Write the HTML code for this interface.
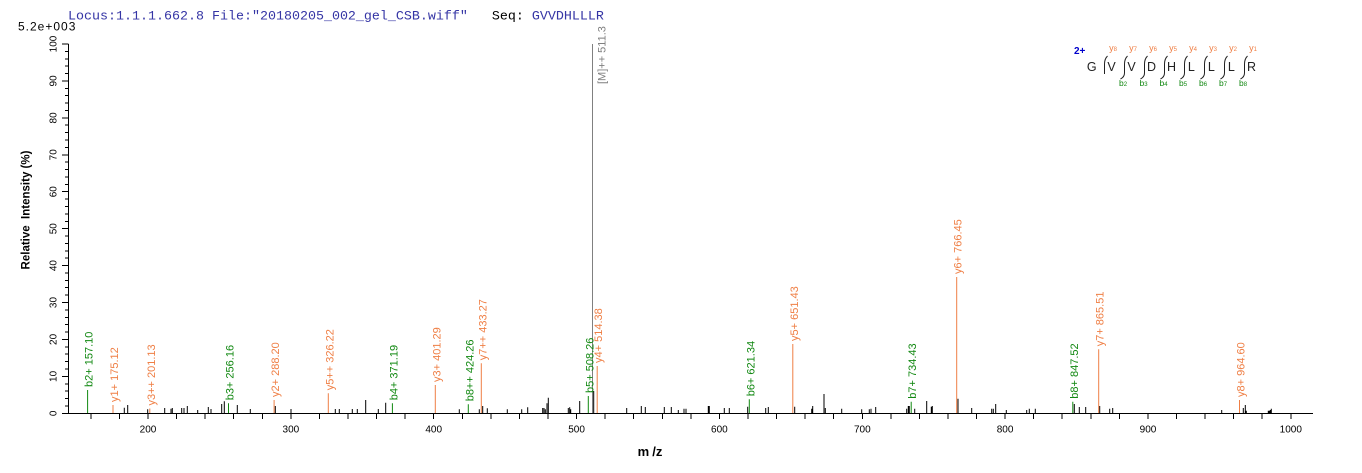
<!DOCTYPE html>
<html>
<head>
<meta charset="utf-8">
<style>
html,body{margin:0;padding:0;background:#fff;}
svg{display:block;}
text{font-family:"Liberation Sans",Arial,sans-serif;}
.mono{font-family:"Liberation Mono","Courier New",monospace;}
.pl{font-size:11px;}
.o{fill:#ef7f45;}
.g{fill:#118811;}
</style>
</head>
<body>
<svg width="1362" height="473" viewBox="0 0 1362 473" xmlns="http://www.w3.org/2000/svg">
<rect width="1362" height="473" fill="#fff"/>

<!-- header -->
<text class="mono" x="68" y="19.5" font-size="13.33" fill="#3535a5" style="white-space:pre">Locus:1.1.1.662.8 File:"20180205_002_gel_CSB.wiff"   <tspan fill="#000">Seq:</tspan> GVVDHLLLR</text>
<text x="18" y="30.5" font-size="12" letter-spacing="1" fill="#000">5.2e+003</text>

<!-- axes -->
<g stroke="#000" stroke-width="1" fill="none" shape-rendering="crispEdges">
<path d="M68.5 44 V413.5 H1313"/>
<!-- x ticks -->
<path d="M90.9 413 v6 M119.4 413 v6 M148 413 v6 M176.6 413 v6 M205.1 413 v6 M233.7 413 v6 M262.3 413 v6 M290.9 413 v6 M319.4 413 v6 M348 413 v6 M376.6 413 v6 M405.1 413 v6 M433.7 413 v6 M462.3 413 v6 M490.8 413 v6 M519.4 413 v6 M548 413 v6 M576.6 413 v6 M605.1 413 v6 M633.7 413 v6 M662.3 413 v6 M690.8 413 v6 M719.4 413 v6 M748 413 v6 M776.5 413 v6 M805.1 413 v6 M833.7 413 v6 M862.3 413 v6 M890.8 413 v6 M919.4 413 v6 M948 413 v6 M976.5 413 v6 M1005.1 413 v6 M1033.7 413 v6 M1062.2 413 v6 M1090.8 413 v6 M1119.4 413 v6 M1148 413 v6 M1176.5 413 v6 M1205.1 413 v6 M1233.7 413 v6 M1262.2 413 v6 M1290.8 413 v6"/>
<!-- y major ticks -->
<path d="M62 413.3 h6.5 M62 376.4 h6.5 M62 339.4 h6.5 M62 302.5 h6.5 M62 265.6 h6.5 M62 228.7 h6.5 M62 191.7 h6.5 M62 154.8 h6.5 M62 117.9 h6.5 M62 80.9 h6.5 M62 44 h6.5"/>
<!-- y minor ticks -->
<path d="M65 405.9 h3.5 M65 398.5 h3.5 M65 391.1 h3.5 M65 383.8 h3.5 M65 369 h3.5 M65 361.6 h3.5 M65 354.2 h3.5 M65 346.8 h3.5 M65 332.1 h3.5 M65 324.7 h3.5 M65 317.3 h3.5 M65 309.9 h3.5 M65 295.1 h3.5 M65 287.7 h3.5 M65 280.4 h3.5 M65 273 h3.5 M65 258.2 h3.5 M65 250.8 h3.5 M65 243.4 h3.5 M65 236 h3.5 M65 221.3 h3.5 M65 213.9 h3.5 M65 206.5 h3.5 M65 199.1 h3.5 M65 184.3 h3.5 M65 176.9 h3.5 M65 169.6 h3.5 M65 162.2 h3.5 M65 147.4 h3.5 M65 140 h3.5 M65 132.6 h3.5 M65 125.2 h3.5 M65 110.5 h3.5 M65 103.1 h3.5 M65 95.7 h3.5 M65 88.3 h3.5 M65 73.5 h3.5 M65 66.1 h3.5 M65 58.8 h3.5 M65 51.4 h3.5"/>
</g>

<!-- x tick labels -->
<g font-size="10" text-anchor="middle" fill="#000">
<text x="148" y="432.7">200</text>
<text x="290.9" y="432.7">300</text>
<text x="433.7" y="432.7">400</text>
<text x="576.6" y="432.7">500</text>
<text x="719.4" y="432.7">600</text>
<text x="862.3" y="432.7">700</text>
<text x="1005.1" y="432.7">800</text>
<text x="1148" y="432.7">900</text>
<text x="1290.8" y="432.7">1000</text>
</g>

<!-- y tick labels -->
<g font-size="10" text-anchor="middle" fill="#000">
<text transform="translate(56.6,413.3) rotate(-90)">0</text>
<text transform="translate(56.6,376.4) rotate(-90)">10</text>
<text transform="translate(56.6,339.4) rotate(-90)">20</text>
<text transform="translate(56.6,302.5) rotate(-90)">30</text>
<text transform="translate(56.6,265.6) rotate(-90)">40</text>
<text transform="translate(56.6,228.7) rotate(-90)">50</text>
<text transform="translate(56.6,191.7) rotate(-90)">60</text>
<text transform="translate(56.6,154.8) rotate(-90)">70</text>
<text transform="translate(56.6,117.9) rotate(-90)">80</text>
<text transform="translate(56.6,80.9) rotate(-90)">90</text>
<text transform="translate(56.6,44) rotate(-90)">100</text>
</g>

<!-- axis titles -->
<text transform="translate(29.5,210) rotate(-90)" text-anchor="middle" font-size="11.5" font-weight="bold" style="white-space:pre">Relative  Intensity (%)</text>
<text x="650" y="456" text-anchor="middle" font-size="13" font-weight="bold">m<tspan dx="3">/z</tspan></text>

<!-- black peaks -->
<path stroke="#000" stroke-width="1" fill="none" d="M124.3 413 V407.7 M127.7 413 V405 M147.7 413 V409.3 M164.7 413 V408 M171 413 V408.7 M172.3 413 V408 M181.7 413 V408 M184 413 V408 M187.3 413 V406 M197.7 413 V410 M208.3 413 V407 M211 413 V409 M221.7 413 V404 M224.3 413 V401.3 M237.3 413 V405 M250.3 413 V409 M275.3 413 V406 M291 413 V409 M335.3 413 V409 M339.3 413 V409 M352.3 413 V409 M357.3 413 V409 M365.7 413 V400 M378.3 413 V409 M385.7 413 V402.7 M459.3 413 V409.3 M479.3 413 V409.3 M482.7 413 V406 M487.3 413 V408.3 M507.3 413 V409.3 M521.7 413 V409.3 M527.7 413 V407.3 M542.7 413 V408 M544 413 V408 M545.3 413 V409.3 M547 413 V403.3 M548.3 413 V397.7 M568.3 413 V408 M569.7 413 V407.3 M570.7 413 V409.3 M579.7 413 V401 M593.7 413 V391 M626.7 413 V408 M641.3 413 V406 M645.3 413 V407 M664.3 413 V407 M671.3 413 V407 M678.3 413 V410 M684 413 V408.7 M686 413 V408.7 M708.3 413 V406 M709.3 413 V406 M724.3 413 V408 M729.3 413 V408 M747.7 413 V406.7 M765.7 413 V408 M768.3 413 V407 M794.7 413 V406.7 M811.7 413 V408.7 M812.7 413 V406 M824 413 V394 M825.3 413 V408 M841.7 413 V408.7 M861.7 413 V409.3 M869.3 413 V409.3 M871 413 V408.7 M875.7 413 V407 M906.7 413 V408.7 M908.3 413 V406 M909.3 413 V406 M914.7 413 V408.7 M926.7 413 V401 M931.3 413 V406.7 M932.3 413 V406 M958 413 V398.7 M971.7 413 V408 M991.7 413 V408.7 M993.3 413 V408.7 M995.7 413 V404 M1006.3 413 V410 M1026.7 413 V410 M1029.3 413 V408.7 M1035.3 413 V408.7 M1074.3 413 V404 M1079.3 413 V407 M1085.7 413 V407 M1099.7 413 V406 M1109.7 413 V408.7 M1112.7 413 V408 M1221.7 413 V410 M1243.3 413 V408 M1245.3 413 V405 M1246.3 413 V410.7 M1268.3 413 V410.7 M1269.3 413 V410.7 M1270.3 413 V410 M1271.3 413 V408.7"/>

<!-- precursor -->
<path stroke="#808080" stroke-width="1" d="M592.5 413 V44"/>
<text class="pl" transform="translate(605.5,84) rotate(-90)" fill="#808080">[M]++ 511.3</text>

<!-- green b ions -->
<path stroke="#118811" stroke-width="1" fill="none" d="M87.6 413 V390 M228.5 413 V403.3 M392.4 413 V403.3 M468.3 413 V404.3 M588.3 413 V396 M749.3 413 V399.3 M911.2 413 V401.7 M1072.8 413 V401.7"/>
<!-- orange y ions -->
<path stroke="#ef7f45" stroke-width="1" fill="none" d="M113 413 V405 M149.8 413 V408.5 M274.1 413 V400 M328.3 413 V393.3 M435.3 413 V385 M481.3 413 V363.3 M597.2 413 V366 M792.8 413 V344 M956.7 413 V277 M1098.7 413 V349.3 M1239.5 413 V400"/>

<!-- peak labels -->
<g class="pl">
<text class="g" transform="translate(92.6,387) rotate(-90)">b2+ 157.10</text>
<text class="o" transform="translate(118,402) rotate(-90)">y1+ 175.12</text>
<text class="o" transform="translate(154.8,405.5) rotate(-90)">y3++ 201.13</text>
<text class="g" transform="translate(233.5,400.3) rotate(-90)">b3+ 256.16</text>
<text class="o" transform="translate(279.1,397) rotate(-90)">y2+ 288.20</text>
<text class="o" transform="translate(333.3,390.3) rotate(-90)">y5++ 326.22</text>
<text class="g" transform="translate(397.4,400.3) rotate(-90)">b4+ 371.19</text>
<text class="o" transform="translate(440.3,382) rotate(-90)">y3+ 401.29</text>
<text class="g" transform="translate(473.3,401.3) rotate(-90)">b8++ 424.26</text>
<text class="o" transform="translate(486.3,360.3) rotate(-90)">y7++ 433.27</text>
<text class="g" transform="translate(593.3,393) rotate(-90)">b5+ 508.26</text>
<text class="o" transform="translate(602.2,363) rotate(-90)">y4+ 514.38</text>
<text class="g" transform="translate(754.3,396.3) rotate(-90)">b6+ 621.34</text>
<text class="o" transform="translate(797.8,341) rotate(-90)">y5+ 651.43</text>
<text class="g" transform="translate(916.2,398.7) rotate(-90)">b7+ 734.43</text>
<text class="o" transform="translate(961.7,274) rotate(-90)">y6+ 766.45</text>
<text class="g" transform="translate(1077.8,398.7) rotate(-90)">b8+ 847.52</text>
<text class="o" transform="translate(1103.7,346.3) rotate(-90)">y7+ 865.51</text>
<text class="o" transform="translate(1244.5,397) rotate(-90)">y8+ 964.60</text>
</g>

<!-- sequence diagram -->
<text x="1074" y="54" font-size="10" font-weight="bold" fill="#0000cc">2+</text>
<g font-size="12.5" text-anchor="middle" fill="#222">
<text x="1091.8" y="71">G</text>
<text x="1111.5" y="71">V</text>
<text x="1131.5" y="71">V</text>
<text x="1151.5" y="71">D</text>
<text x="1171.5" y="71">H</text>
<text x="1191.3" y="71">L</text>
<text x="1211.3" y="71">L</text>
<text x="1231.3" y="71">L</text>
<text x="1251.5" y="71">R</text>
</g>
<g stroke="#222" stroke-width="1" fill="none">
<path d="M1104.5 74 V64 Q1104.5 59 1107.5 56"/>
<path d="M1120.5 79 Q1124.5 77 1124.5 73 V64 Q1124.5 59 1127.5 56"/>
<path d="M1140.5 79 Q1144.5 77 1144.5 73 V64 Q1144.5 59 1147.5 56"/>
<path d="M1160.5 79 Q1164.5 77 1164.5 73 V64 Q1164.5 59 1167.5 56"/>
<path d="M1180.5 79 Q1184.5 77 1184.5 73 V64 Q1184.5 59 1187.5 56"/>
<path d="M1200.5 79 Q1204.5 77 1204.5 73 V64 Q1204.5 59 1207.5 56"/>
<path d="M1220.5 79 Q1224.5 77 1224.5 73 V64 Q1224.5 59 1227.5 56"/>
<path d="M1240.5 79 Q1244.5 77 1244.5 73 V64 Q1244.5 59 1247.5 56"/>
</g>
<g font-size="9" text-anchor="middle" class="o">
<text x="1113" y="51">y<tspan font-size="6">8</tspan></text>
<text x="1133" y="51">y<tspan font-size="6">7</tspan></text>
<text x="1153" y="51">y<tspan font-size="6">6</tspan></text>
<text x="1173" y="51">y<tspan font-size="6">5</tspan></text>
<text x="1193" y="51">y<tspan font-size="6">4</tspan></text>
<text x="1213" y="51">y<tspan font-size="6">3</tspan></text>
<text x="1233" y="51">y<tspan font-size="6">2</tspan></text>
<text x="1253" y="51">y<tspan font-size="6">1</tspan></text>
</g>
<g font-size="8.5" text-anchor="middle" class="g">
<text x="1123" y="86">b<tspan font-size="6">2</tspan></text>
<text x="1143.5" y="86">b<tspan font-size="6">3</tspan></text>
<text x="1163.5" y="86">b<tspan font-size="6">4</tspan></text>
<text x="1183" y="86">b<tspan font-size="6">5</tspan></text>
<text x="1203" y="86">b<tspan font-size="6">6</tspan></text>
<text x="1223" y="86">b<tspan font-size="6">7</tspan></text>
<text x="1243" y="86">b<tspan font-size="6">8</tspan></text>
</g>
</svg>
</body>
</html>
